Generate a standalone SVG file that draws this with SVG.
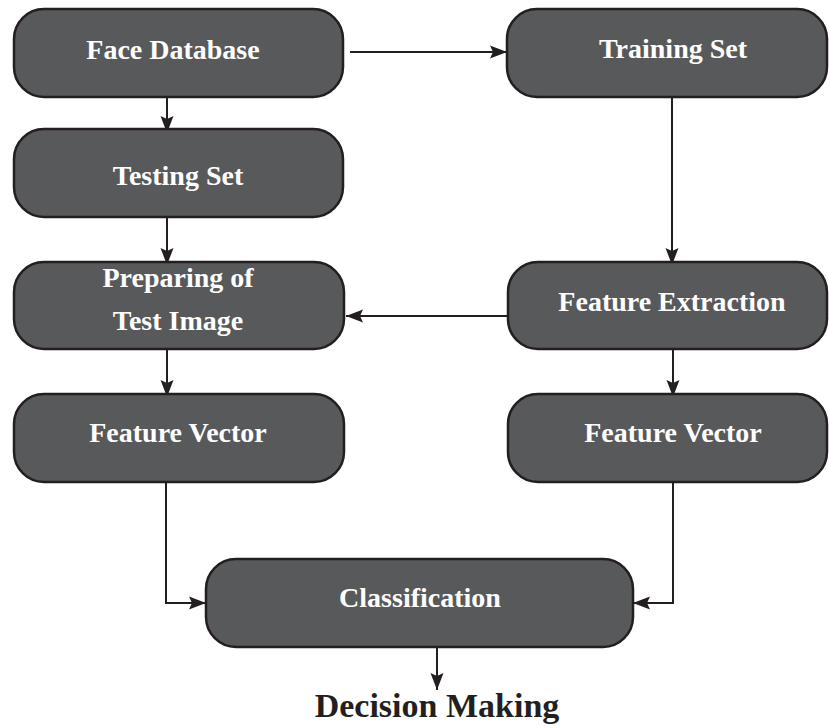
<svg xmlns="http://www.w3.org/2000/svg" width="829" height="728" viewBox="0 0 829 728">
  <defs>
    <marker id="arrow" markerUnits="userSpaceOnUse" markerWidth="18" markerHeight="14" refX="17" refY="7" orient="auto">
      <path d="M0,0.5 L17,7 L0,13.5 L3,7 Z" fill="#231f20"/>
    </marker>
  </defs>
  <style>
    .box { fill: #58595b; stroke: #231f20; stroke-width: 2.5; }
    .label { font-weight: bold; font-size: 28px; fill: #ffffff; text-anchor: middle; }
    .edge { fill: none; stroke: #231f20; stroke-width: 2; marker-end: url(#arrow); }
    .out { font-weight: bold; font-size: 34px; fill: #231f20; text-anchor: middle; }
  </style>
  <rect width="829" height="728" fill="#ffffff"/>

  <!-- flow connectors -->
  <g id="connectors">
    <path class="edge" d="M167,97 V133"/>
    <path class="edge" d="M167,217 V265"/>
    <path class="edge" d="M350,52 H507"/>
    <path class="edge" d="M672,97 V265"/>
    <path class="edge" d="M508,316 H346"/>
    <path class="edge" d="M167,349 V397"/>
    <path class="edge" d="M673,349 V397"/>
    <path class="edge" d="M166,482 V603 H206"/>
    <path class="edge" d="M673,482 V603 H633"/>
    <path class="edge" d="M437,647 V690"/>
  </g>

  <g font-family="Liberation Serif, 'Times New Roman', serif">
    <g id="face-database">
      <rect class="box" x="14" y="9" width="329" height="88" rx="30"/>
      <text class="label" x="173" y="59">Face Database</text>
    </g>
    <g id="training-set">
      <rect class="box" x="507" y="9" width="320" height="88" rx="30"/>
      <text class="label" x="673" y="58">Training Set</text>
    </g>
    <g id="testing-set">
      <rect class="box" x="14" y="129" width="329" height="88" rx="30"/>
      <text class="label" x="178" y="185">Testing Set</text>
    </g>
    <g id="preparing-test-image">
      <rect class="box" x="14" y="262" width="330" height="87" rx="30"/>
      <text class="label" x="178" y="287">Preparing of</text>
      <text class="label" x="178" y="330">Test Image</text>
    </g>
    <g id="feature-extraction">
      <rect class="box" x="508" y="262" width="319" height="87" rx="30"/>
      <text class="label" x="672" y="311">Feature Extraction</text>
    </g>
    <g id="feature-vector-test">
      <rect class="box" x="14" y="394" width="330" height="88" rx="30"/>
      <text class="label" x="178" y="442">Feature Vector</text>
    </g>
    <g id="feature-vector-train">
      <rect class="box" x="508" y="394" width="319" height="88" rx="30"/>
      <text class="label" x="673" y="442">Feature Vector</text>
    </g>
    <g id="classification">
      <rect class="box" x="206" y="559" width="427" height="88" rx="30"/>
      <text class="label" x="420" y="607">Classification</text>
    </g>
    <g id="decision-making">
      <text class="out" x="437" y="717">Decision Making</text>
    </g>
  </g>
</svg>
